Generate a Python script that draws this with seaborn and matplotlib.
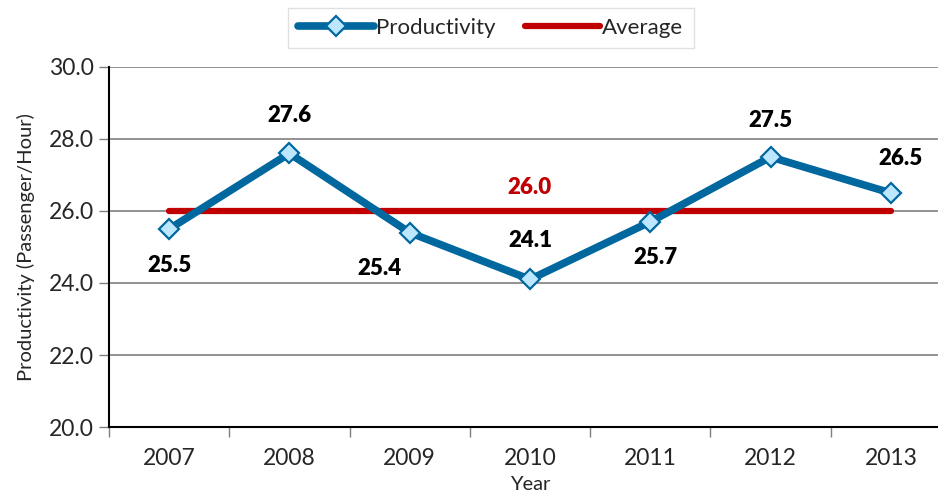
import matplotlib
matplotlib.use("Agg")
import matplotlib.pyplot as plt
import seaborn as sns
import numpy as np
import pandas as pd
from matplotlib.lines import Line2D

years = ["2007", "2008", "2009", "2010", "2011", "2012", "2013"]
productivity = [25.5, 27.6, 25.4, 24.1, 25.7, 27.5, 26.5]
average = 26.0
y_ticks = [20.0, 22.0, 24.0, 26.0, 28.0, 30.0]

# label offsets (points) for each data value: (dx, dy)
label_offsets = [(0, -26), (0, 27), (-22, -26), (0, 28), (4, -26), (0, 26), (7, 25)]

sns.set_theme(style="white")
plt.rcParams["font.family"] = ["Lato", "DejaVu Sans"]

blue = "#00689E"
marker_face = "#BDE6FF"
red = "#C00000"

df = pd.DataFrame({"idx": np.arange(len(years)), "year": years, "value": productivity})

fig = plt.figure(figsize=(9.38, 4.94), dpi=100)
ax = fig.add_axes([109 / 938, 1 - 427 / 494, (951 - 109) / 938, (427 - 67) / 494])

for t in y_ticks:
    ax.axhline(t, color="#7f7f7f", lw=1.2, zorder=0)

ax.plot([df["idx"].iloc[0], df["idx"].iloc[-1]], [average, average],
        color=red, lw=4.5, solid_capstyle="round", zorder=2)

sns.lineplot(data=df, x="idx", y="value", ax=ax, color=blue, lw=5.5,
             marker="D", markersize=10, markerfacecolor=marker_face,
             markeredgecolor=blue, markeredgewidth=1.6, zorder=3)

for i, v in enumerate(productivity):
    dx, dy = label_offsets[i]
    ax.annotate(f"{v:.1f}", (i, v), xytext=(dx, dy), textcoords="offset points",
                ha="center", va="center", fontsize=16, fontweight="heavy", color="black")

ax.annotate(f"{average:.1f}", (3, average), xytext=(0, 17), textcoords="offset points",
            ha="center", va="center", fontsize=16, fontweight="heavy", color=red)

ax.set_xlim(-0.5, len(years) - 0.5)
ax.set_ylim(20, 30)
ax.set_yticks(y_ticks)
ax.set_yticklabels([f"{t:.1f}" for t in y_ticks], fontsize=16.5)
ax.set_xticks(np.arange(len(years)))
ax.set_xticklabels(years, fontsize=16.5)
ax.set_xticks(np.arange(len(years) + 1) - 0.5, minor=True)
ax.tick_params(axis="x", which="major", length=0, pad=15)
ax.tick_params(axis="x", which="minor", length=7, width=1, color="#7f7f7f", bottom=True)
ax.tick_params(axis="y", which="major", length=7, width=1, color="#7f7f7f", left=True, pad=4)

for side in ["top", "right"]:
    ax.spines[side].set_visible(False)
for side in ["left", "bottom"]:
    ax.spines[side].set_color("black")
    ax.spines[side].set_linewidth(1.5)

ax.set_xlabel("Year", fontsize=14.5, labelpad=5)
ax.set_ylabel("Productivity (Passenger/Hour)", fontsize=14.5, labelpad=10)

handles = [
    Line2D([0], [0], color=blue, lw=5.5, marker="D", markersize=10,
           markerfacecolor=marker_face, markeredgecolor=blue, markeredgewidth=1.6),
    Line2D([0], [0], color=red, lw=4.5, solid_capstyle="round"),
]
leg = fig.legend(handles, ["Productivity", "Average"], loc="center",
                 bbox_to_anchor=(491 / 938, 1 - 28 / 494), ncol=2, fontsize=16,
                 frameon=True, fancybox=False, edgecolor="#d9d9d9",
                 handlelength=3.4, handletextpad=0.1, columnspacing=1.3,
                 borderpad=0.45)
leg.get_frame().set_linewidth(1.0)

fig.savefig("out.png", dpi=100)
